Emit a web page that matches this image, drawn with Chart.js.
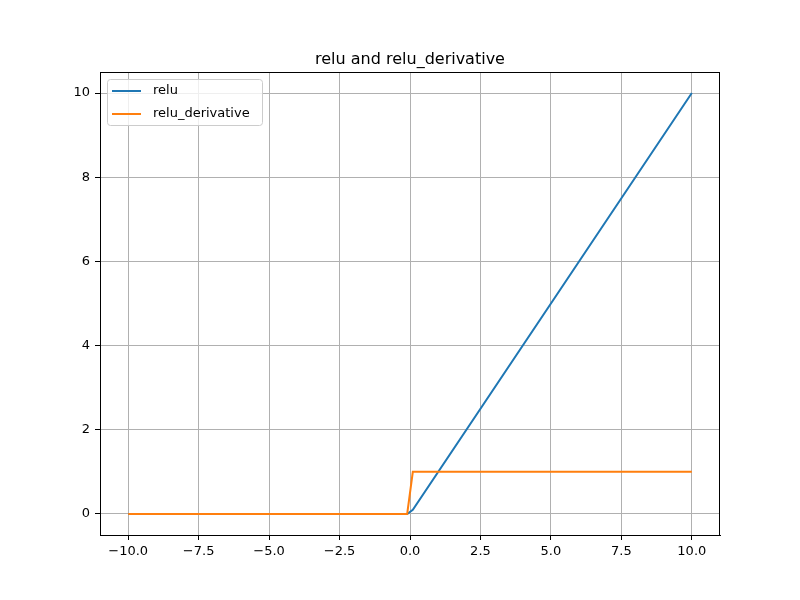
<!DOCTYPE html>
<html lang="en">
<head>
    <meta charset="UTF-8">
    <title>relu and relu_derivative</title>
    <style>
        body { margin: 0; background: white; }
        canvas { display: block; }
    </style>
    <script src="https://cdn.jsdelivr.net/npm/chart.js"></script>
</head>
<body>
    <canvas id="reluChart" width="800" height="600"></canvas>

    <script>
        // points (lines are straight between them)
        const xValues = [-10, -0.1, 0.1, 10];
        const reluValues = [0, 0, 0.1, 10];
        const derivValues = [0, 0, 1, 1];
        const xTicks = [-10, -7.5, -5, -2.5, 0, 2.5, 5, 7.5, 10];
        const yTicks = [0, 2, 4, 6, 8, 10];
        const titleText = 'relu and relu_derivative';

        const toPoints = ys => xValues.map((x, i) => ({ x: x, y: ys[i] }));
        const minus = s => s.replace('-', '\u2212');

        // full black frame round the axes and the title centred over them
        const framePlugin = {
            id: 'frame',
            afterDatasetsDraw(chart) {
                const a = chart.chartArea, c = chart.ctx;
                c.save();
                c.strokeStyle = '#000';
                c.lineWidth = 1;
                c.strokeRect(a.left + 0.5, a.top + 0.5, a.right - a.left - 1, a.bottom - a.top);
                c.fillStyle = '#000';
                c.font = '16px "DejaVu Sans"';
                c.textAlign = 'center';
                c.textBaseline = 'alphabetic';
                c.fillText(titleText, (a.left + a.right) / 2, a.top - 8);
                c.restore();
            }
        };

        // legend drawn inside the plot, upper left
        const innerLegend = {
            id: 'innerLegend',
            afterDraw(chart) {
                const c = chart.ctx, a = chart.chartArea;
                const x = a.left + 7, y = a.top + 7, w = 155, h = 46;
                c.save();
                c.fillStyle = 'rgba(255,255,255,0.8)';
                c.strokeStyle = '#cccccc';
                c.lineWidth = 1;
                c.beginPath();
                c.roundRect(x + 0.5, y + 0.5, w, h, 3);
                c.fill();
                c.stroke();
                c.font = '13px "DejaVu Sans"';
                c.textBaseline = 'middle';
                chart.data.datasets.forEach((ds, i) => {
                    const ly = y + 12 + i * 23;
                    c.strokeStyle = ds.borderColor;
                    c.lineWidth = 2;
                    c.beginPath();
                    c.moveTo(x + 5, ly);
                    c.lineTo(x + 34, ly);
                    c.stroke();
                    c.fillStyle = '#000';
                    c.fillText(ds.label, x + 46, ly);
                });
                c.restore();
            }
        };

        const ctx = document.getElementById('reluChart').getContext('2d');
        new Chart(ctx, {
            type: 'scatter',
            data: {
                datasets: [
                    { label: 'relu', data: toPoints(reluValues), borderColor: '#1f77b4', showLine: true, borderWidth: 2, pointRadius: 0, fill: false, order: 2 },
                    { label: 'relu_derivative', data: toPoints(derivValues), borderColor: '#ff7f0e', showLine: true, borderWidth: 2, pointRadius: 0, fill: false, order: 1 }
                ]
            },
            options: {
                responsive: false,
                animation: false,
                layout: { padding: { left: 0, top: 72, right: 80, bottom: 0 } },
                plugins: {
                    legend: { display: false },
                    tooltip: { enabled: false },
                    title: { display: false }
                },
                scales: {
                    x: {
                        type: 'linear',
                        min: -11, max: 11,
                        afterBuildTicks: s => { s.ticks = xTicks.map(v => ({ value: v })); },
                        afterFit: s => { s.height = 65; },
                        ticks: {
                            color: '#000',
                            font: { family: 'DejaVu Sans', size: 13 },
                            padding: 4,
                            maxRotation: 0,
                            callback: v => minus(v.toFixed(1))
                        },
                        grid: { color: '#b0b0b0', lineWidth: 1, tickLength: 5, tickColor: '#000' },
                        border: { color: '#000' }
                    },
                    y: {
                        type: 'linear',
                        min: -0.5, max: 10.5,
                        afterBuildTicks: s => { s.ticks = yTicks.map(v => ({ value: v })); },
                        afterFit: s => { s.width = 100; },
                        ticks: {
                            color: '#000',
                            font: { family: 'DejaVu Sans', size: 13 },
                            padding: 5,
                            callback: v => minus(String(v))
                        },
                        grid: { color: '#b0b0b0', lineWidth: 1, tickLength: 5, tickColor: '#000' },
                        border: { color: '#000' }
                    }
                }
            },
            plugins: [framePlugin, innerLegend]
        });
    </script>
</body>
</html>
